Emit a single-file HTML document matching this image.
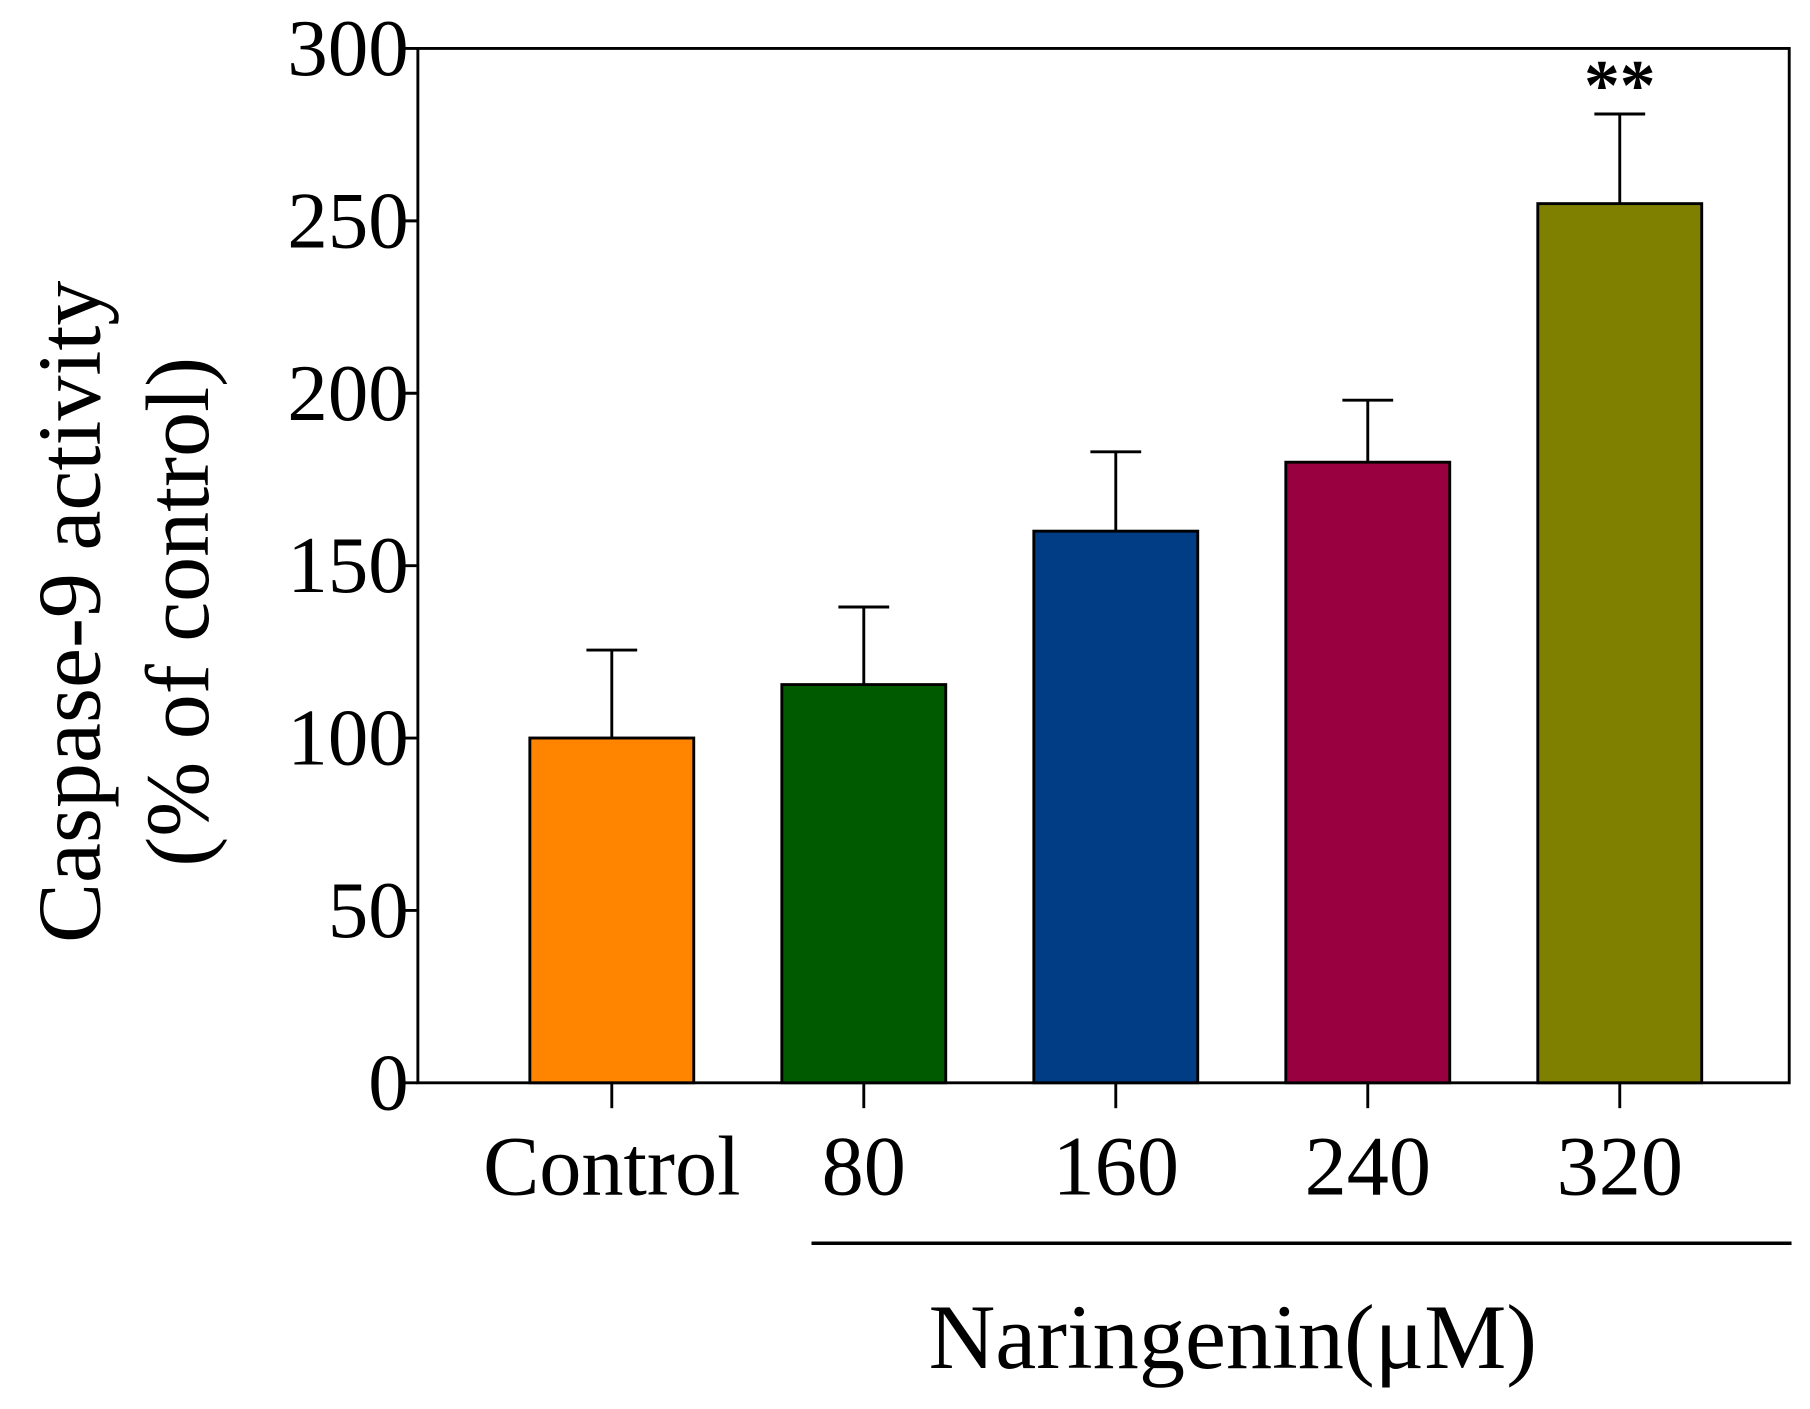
<!DOCTYPE html>
<html><head><meta charset="utf-8"><style>html,body{margin:0;padding:0;background:#fff}svg{display:block}text{font-family:"Liberation Serif",serif;fill:#000}</style></head>
<body>
<svg id="chart" width="1810" height="1409" viewBox="0 0 1568 1220.6" xmlns="http://www.w3.org/2000/svg">
<g id="plot"></g>
</svg>
<script>
const categories = ["Control","80","160","240","320"];
const values = [100,115.5,160,180,255];
const errors = [25.5,22.5,23,18,26];
const colors = ["#ff8400","#005a00","#003d85","#990040","#808000"];
const yTicks = [0,50,100,150,200,250,300];
const annotations = ["","","","","**"];

const NS="http://www.w3.org/2000/svg";
const g=document.getElementById('plot');
const x0=362,x1=1550,yTop=42,yBot=938,yMax=300;
const y=v=>yBot-(v/yMax)*(yBot-yTop);
const cx=i=>530+i*218.3;
const bw=142;
function el(t,a,txt){const e=document.createElementNS(NS,t);for(const k in a)e.setAttribute(k,a[k]);if(txt!==undefined)e.textContent=txt;g.appendChild(e);return e;}
const frame=el('path',{d:`M${x0},${yTop}H${x1}V${yBot}H${x0}Z`,fill:'none',stroke:'#000','stroke-width':2.5});


yTicks.forEach(t=>{
  const l=el('line',{x1:x0-14,x2:x0,y1:y(t),y2:y(t),stroke:'#000','stroke-width':2.5});
  
  
  const tx=el('text',{x:x0-8,y:y(t)+23,'text-anchor':'end','font-size':70},String(t));
  
  
});
categories.forEach((c,i)=>{
  const xc=cx(i);
  const eb=el('path',{d:`M${xc},${y(values[i])}V${y(values[i]+errors[i])}M${xc-22},${y(values[i]+errors[i])}H${xc+22}`,stroke:'#000','stroke-width':2.5,fill:'none'});
  
  
  const r=el('rect',{x:xc-bw/2,y:y(values[i]),width:bw,height:yBot-y(values[i]),fill:colors[i],stroke:'#000','stroke-width':2.5});
  
  
  const tk=el('line',{x1:xc,x2:xc,y1:yBot,y2:yBot+22,stroke:'#000','stroke-width':2.5});
  
  
  const lb=el('text',{x:xc,y:1035,'text-anchor':'middle','font-size':73},c);
  
  
  if(annotations[i]){
    const a=el('text',{x:xc,y:y(values[i]+errors[i])-4,'text-anchor':'middle','font-size':62,'font-weight':'bold'},annotations[i]);
    
    
  }
});
const gl=el('line',{x1:703,x2:1552,y1:1077,y2:1077,stroke:'#000','stroke-width':3});


const xt=el('text',{x:1068,y:1185,'text-anchor':'middle','font-size':80},'Naringenin(μM)');


const yt1=el('text',{x:0,y:0,transform:'translate(86,530) rotate(-90)','text-anchor':'middle','font-size':78},'Caspase-9 activity');


const yt2=el('text',{x:0,y:0,transform:'translate(180,530) rotate(-90)','text-anchor':'middle','font-size':78},'(% of control)');


</script>
</body></html>
